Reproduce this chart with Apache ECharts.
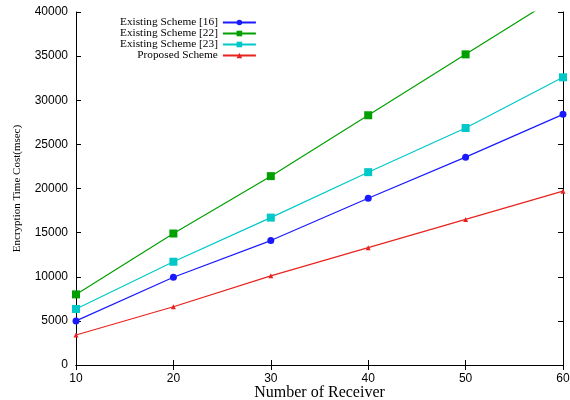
<!DOCTYPE html>
<html><head><meta charset="utf-8">
<script src="https://cdn.jsdelivr.net/npm/echarts@6/dist/echarts.min.js"></script>
<style>html,body{margin:0;padding:0;background:#fff}#c{width:570px;height:400px}</style>
</head><body><div id="c"></div>
<script>
var receivers = [10, 20, 30, 40, 50, 60];
var scheme16 = [5000, 9950, 14100, 18900, 23550, 28400];
var scheme22 = [8000, 14900, 21400, 28300, 35200, 42100];
var scheme23 = [6350, 11700, 16700, 21850, 26850, 32600];
var proposed = [3400, 6600, 10100, 13300, 16500, 19700];
var names = ['Existing Scheme [16]', 'Existing Scheme [22]', 'Existing Scheme [23]', 'Proposed Scheme'];

function pairs(ys){ return receivers.map(function(x,i){ return [x, ys[i]]; }); }

var chart = echarts.init(document.getElementById('c'));
var axisLine = {show: true, lineStyle: {color: '#000', width: 1}};
var tick = {show: true, inside: true, length: 5, lineStyle: {color: '#000'}};
var lbl = {fontFamily: 'Liberation Sans', fontSize: 12, color: '#000'};
function mk(name, data, color, symbol, size) {
  return {name: name, type: 'line', data: pairs(data), symbol: symbol, symbolSize: size,
    showSymbol: true, lineStyle: {color: color, width: 1.2}, itemStyle: {color: color},
    animation: false, clip: true, xAxisIndex: 0, yAxisIndex: 0};
}
chart.setOption({
  animation: false,
  grid: {left: 76, right: 7, top: 12, bottom: 35, containLabel: false, outerBoundsMode: 'none'},
  legend: {
    orient: 'vertical', align: 'right', left: 120, top: 17, itemGap: 0, padding: 0,
    itemWidth: 33, itemHeight: 7, selectedMode: false,
    textStyle: {fontFamily: 'Liberation Serif', fontSize: 11.3, lineHeight: 11, color: '#000'},
    data: names
  },
  xAxis: [
    {type: 'value', min: 10, max: 60, interval: 10, axisLine: axisLine, axisTick: tick,
     splitLine: {show: false}, axisLabel: Object.assign({margin: 8}, lbl),
     name: 'Number of Receiver', nameLocation: 'middle', nameGap: 20, nameMoveOverlap: false,
     nameTextStyle: {fontFamily: 'Liberation Serif', fontSize: 16, color: '#000'}},
    {type: 'value', position: 'top', min: 10, max: 60, interval: 10, axisLine: axisLine,
     axisTick: tick, axisLabel: {show: false}, splitLine: {show: false}}
  ],
  yAxis: [
    {type: 'value', min: 0, max: 40000, interval: 5000, axisLine: axisLine, axisTick: tick,
     splitLine: {show: false}, axisLabel: Object.assign({margin: 8, formatter: function(v){ return String(v); }}, lbl),
     name: 'Encryption Time Cost(msec)', nameLocation: 'middle', nameGap: 53, nameMoveOverlap: false,
     nameTextStyle: {fontFamily: 'Liberation Serif', fontSize: 11, color: '#000'}},
    {type: 'value', position: 'right', min: 0, max: 40000, interval: 5000, axisLine: axisLine,
     axisTick: tick, axisLabel: {show: false}, splitLine: {show: false}}
  ],
  series: [
    mk(names[0], scheme16, '#1a1aff', 'circle', 7),
    mk(names[1], scheme22, '#00a000', 'rect', 8),
    mk(names[2], scheme23, '#00c8c8', 'rect', 8),
    mk(names[3], proposed, '#e8231f', 'triangle', 5)
  ]
});
</script></body></html>
